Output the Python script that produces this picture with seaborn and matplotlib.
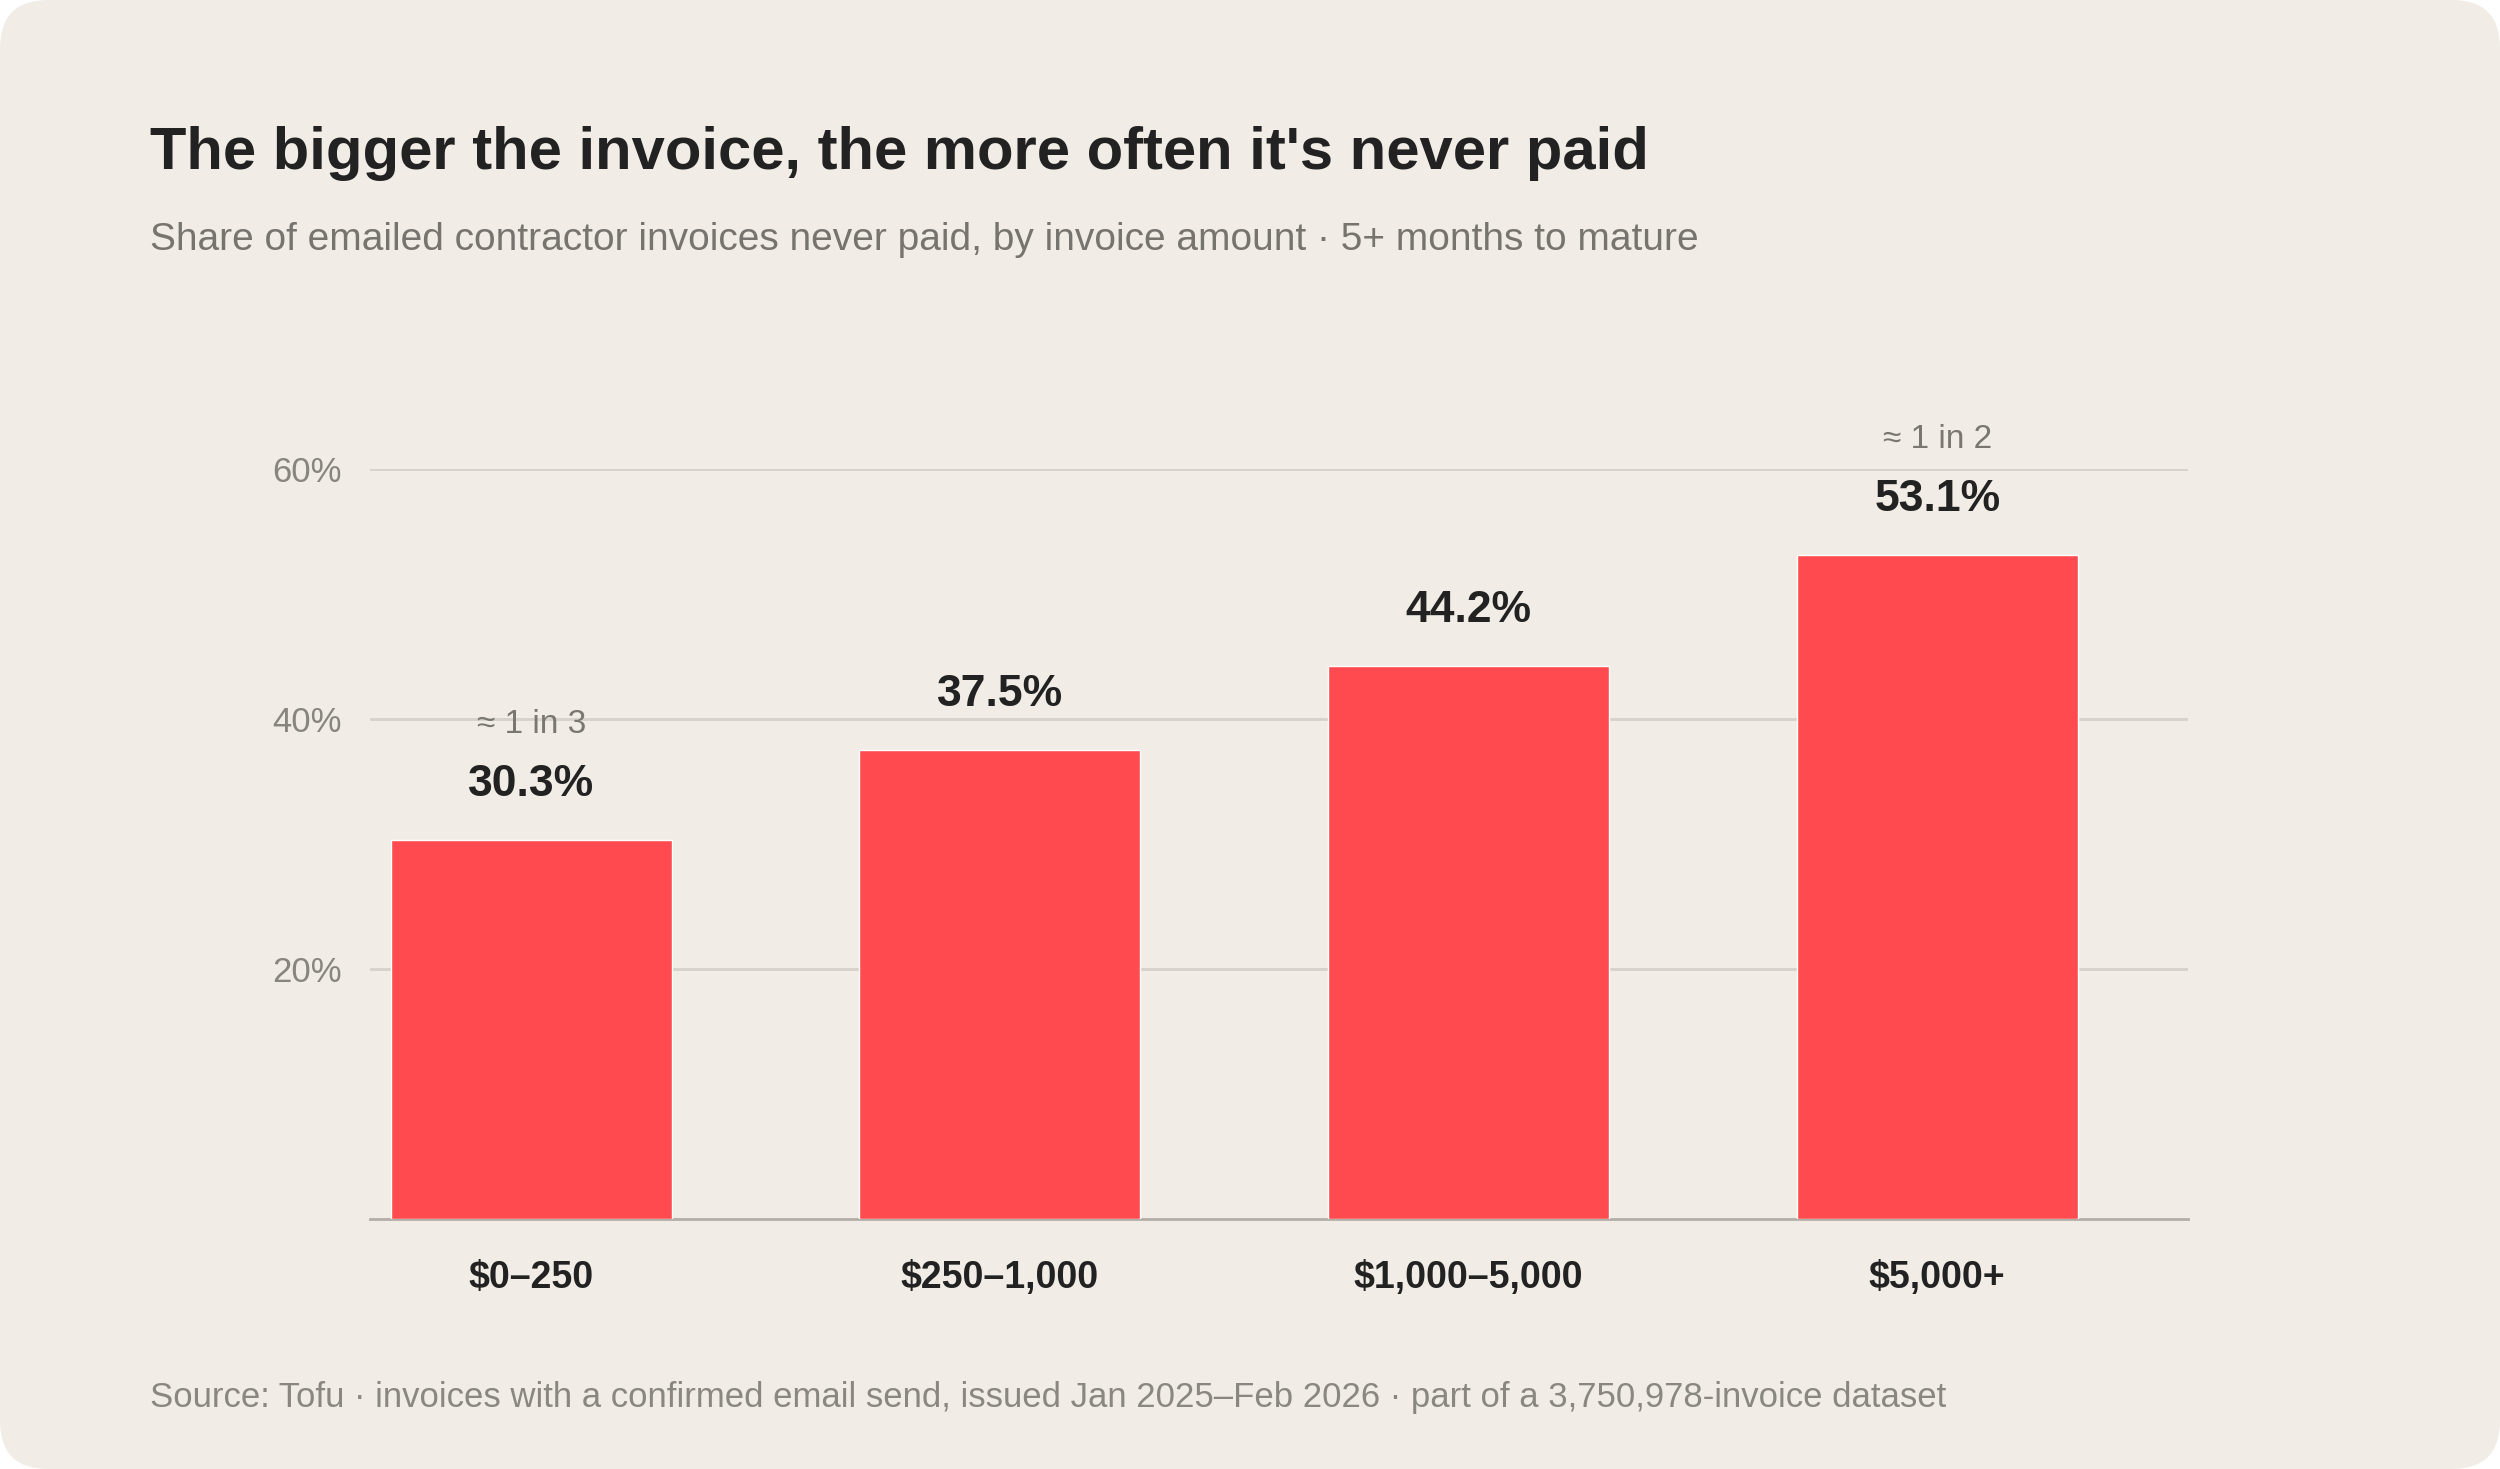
import matplotlib
matplotlib.use("Agg")
import matplotlib.pyplot as plt
from matplotlib.patches import FancyBboxPatch
from matplotlib.ticker import FuncFormatter
import seaborn as sns

# data
categories = ["$0–250", "$250–1,000", "$1,000–5,000", "$5,000+"]
never_paid_pct = [30.3, 37.5, 44.2, 53.1]
ratio_notes = ["≈ 1 in 3", "", "", "≈ 1 in 2"]
y_ticks = [20, 40, 60]

BG = "#F1EDE6"
BAR = "#FF4B4F"

sns.set_theme(style="white")
plt.rcParams["font.family"] = ["Liberation Sans", "DejaVu Sans"]

fig = plt.figure(figsize=(25, 14.69), dpi=100, facecolor="white")
card = FancyBboxPatch((0, 0), 2500, 1469, boxstyle="round,pad=0,rounding_size=48",
                      transform=None, facecolor=BG, edgecolor="none", zorder=-10)
fig.add_artist(card)

ax = fig.add_axes([0.148, 0.1705, 0.727, 0.5105])
ax.set_facecolor(BG)
sns.barplot(x=categories, y=never_paid_pct, color=BAR, saturation=1, width=0.6, ax=ax, zorder=3)

ax.set_ylim(0, 60)
ax.set_xlim(-0.344, 3.534)
ax.set_yticks(y_ticks)
ax.yaxis.set_major_formatter(FuncFormatter(lambda v, _: f"{v:.0f}%"))
ax.grid(axis="y", color="#D6D2CB", linewidth=2, zorder=0)
ax.set_axisbelow(True)
for s in ["top", "right", "left"]:
    ax.spines[s].set_visible(False)
ax.spines["bottom"].set_color("#B3AFA8")
ax.spines["bottom"].set_linewidth(2)
ax.tick_params(axis="y", length=0, pad=20, labelsize=25, labelcolor="#888580")
ax.tick_params(axis="x", length=0, pad=30, labelsize=27, labelcolor="#222222")
for lab in ax.get_xticklabels():
    lab.set_fontweight("bold")
ax.set_xlabel("")
ax.set_ylabel("")

for i, (v, note) in enumerate(zip(never_paid_pct, ratio_notes)):
    ax.annotate(f"{v:.1f}%", (i, v), xytext=(0, 40), textcoords="offset points",
                ha="center", va="center", fontsize=32, fontweight="bold",
                color="#222222", annotation_clip=False)
    if note:
        ax.annotate(note, (i, v), xytext=(0, 83), textcoords="offset points",
                    ha="center", va="center", fontsize=24, color="#7A7773",
                    annotation_clip=False)

fig.text(0.06, 0.885, "The bigger the invoice, the more often it's never paid",
         fontsize=43, fontweight="bold", color="#222222", va="baseline")
fig.text(0.06, 0.830, "Share of emailed contractor invoices never paid, by invoice amount · 5+ months to mature",
         fontsize=28, color="#777470", va="baseline")
fig.text(0.06, 0.042, "Source: Tofu · invoices with a confirmed email send, issued Jan 2025–Feb 2026 · part of a 3,750,978-invoice dataset",
         fontsize=25, color="#8A8782", va="baseline")

fig.savefig("out.png", dpi=100, facecolor="white")
